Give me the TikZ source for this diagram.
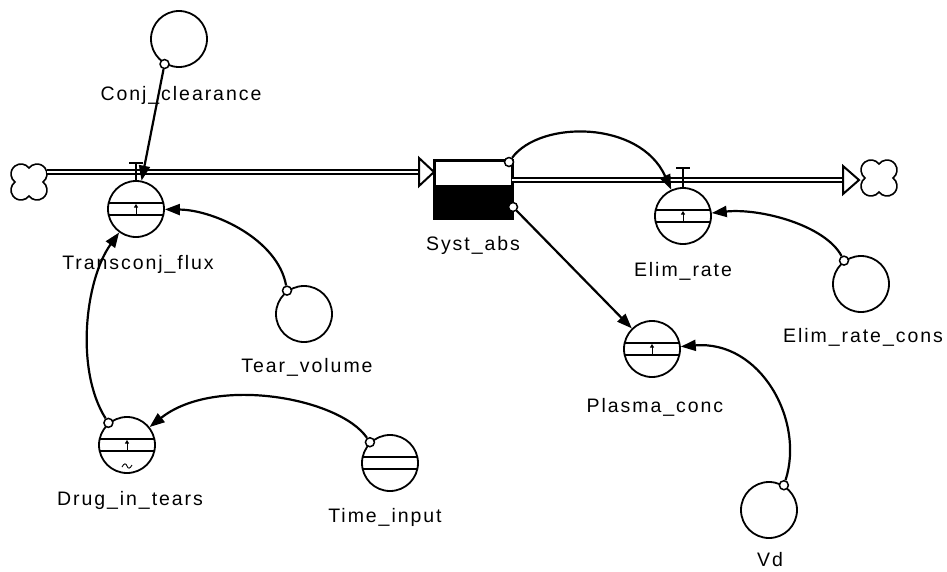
\documentclass[tikz,border=0pt]{standalone}
\usepackage{fontspec}
\newfontfamily\diagfont{Liberation Sans}[LetterSpace=10]
\usetikzlibrary{arrows.meta}

\tikzset{
  aux/.style={circle, draw, line width=1.8pt, minimum size=56pt, inner sep=0pt},
  srcdot/.style={circle, draw, line width=1.5pt, fill=white, minimum size=9pt, inner sep=0pt},
  lbl/.style={font=\diagfont\fontsize{19.5pt}{22pt}\selectfont, inner sep=0pt, anchor=base},
  conn/.style={line width=2.2pt, -{Triangle[length=15pt,width=11pt]}},
  pipe/.style={draw, line width=1.5pt, double=white, double distance=2.8pt},
  pipehead/.style={draw, fill=white, line width=2pt, line join=miter},
  band/.pic={\draw[line width=1.4pt] (-27.3,-6) -- (27.3,-6) (-27.3,6) -- (27.3,6);},
  tick/.pic={\draw[line width=0.9pt, -{Triangle[length=3.5pt,width=4pt]}] (0,5) -- (0,-5);},
  cloudsym/.pic={\draw[line width=1.6pt, fill=white]
      (0,14) arc[start angle=143.13, end angle=-53.13, radius=10]
      arc[start angle=53.13, end angle=-143.13, radius=10]
      arc[start angle=-36.87, end angle=-233.13, radius=10]
      arc[start angle=-126.87, end angle=-323.13, radius=10] -- cycle;}
}

\begin{document}
\begin{tikzpicture}[x=1pt, y=-1pt]
\useasboundingbox (0,0) rectangle (947,571);

% ---- stock ----
\node[draw, line width=1.8pt, minimum width=77pt, minimum height=57pt, inner sep=0pt] (sa) at (473.5,189.5) {};
\fill (sa.south west) rectangle ([yshift=4.5pt]sa.east);
\draw[line width=1.8pt] (sa.north west) rectangle (sa.south east);

% ---- clouds and pipes ----
\pic at (29,182) {cloudsym};
\coordinate (cl) at (47,172);
\coordinate (ahl) at (419,172);
\pic at (879,178) {cloudsym};
\coordinate (sr) at (512,180);
\coordinate (ahr) at (843,180);
\draw[pipe] (cl) -- (ahl);
\draw[pipe] (sr) -- (ahr);
\draw[pipehead] (ahl) ++(0,-14) -- ++(15,14) -- ++(-15,14) -- cycle;
\draw[pipehead] (ahr) ++(0,-14) -- ++(16,14) -- ++(-16,14) -- cycle;

% ---- flow valves ----
\node[aux] (tf) at (136,209) {};
\pic at (136,209) {band};
\pic at (136,209) {tick};
\draw[line width=1.6pt] (tf.north) -- ++(0,-17) ++(-7,0) -- ++(14,0);

\node[aux] (er) at (683,216) {};
\pic at (683,216) {band};
\pic at (683,216) {tick};
\draw[line width=1.6pt] (er.north) -- ++(0,-19) ++(-7,0) -- ++(14,0);

% ---- converters ----
\node[aux] (cc) at (179,39) {};
\node[aux] (tv) at (304,314) {};
\node[aux] (dt) at (127,445) {};
\pic at (127,445) {band};
\pic at (127,445) {tick};
\draw[line width=0.9pt] (122,467) .. controls (124,463) and (126,463) .. (127,466)
      .. controls (128,469) and (130,469) .. (132,465);
\node[aux] (ti) at (390,463) {};
\pic at (390,463) {band};
\node[aux] (pl) at (652,349) {};
\pic at (652,349) {band};
\pic at (652,349) {tick};
\node[aux] (ec) at (861,284) {};
\node[aux] (vd) at (769,510) {};

% ---- connector sources ----
\node[srcdot] (ccs) at (cc.240) {};
\node[srcdot] (tvs) at (tv.126) {};
\node[srcdot] (dts) at (dt.130) {};
\node[srcdot] (tis) at (ti.134) {};
\node[srcdot] (ecs) at (ec.126) {};
\node[srcdot] (vds) at (vd.59) {};
\node[srcdot] (sa1) at (509,162) {};
\node[srcdot] (sa2) at (513,207) {};

% ---- connectors ----
\draw[conn] (ccs) -- (tf);
\draw[conn] (tvs) .. controls (278,240) and (215,210) .. (tf);
\draw[conn] (dts) .. controls (75,370) and (85,280) .. (tf);
\draw[conn] (tis) .. controls (340,398) and (215,375) .. (dt);
\draw[conn] (sa1) .. controls (540,120) and (640,120) .. (er);
\draw[conn] (sa2) -- (pl);
\draw[conn] (ecs) .. controls (825,225) and (760,208) .. (er);
\draw[conn] (vds) .. controls (805,420) and (760,340) .. (pl);

% ---- labels ----
\node[lbl] (lcc) at (181,100) {Conj\_clearance};
\node[lbl] (ltf) at (138,269) {Transconj\_flux};
\node[lbl] (ltv) at (307,372) {Tear\_volume};
\node[lbl] (ldt) at (130,505) {Drug\_in\_tears};
\node[lbl] (lti) at (385,522) {Time\_input};
\node[lbl] (lsa) at (473,250) {Syst\_abs};
\node[lbl] (ler) at (683,276) {Elim\_rate};
\node[lbl] (lec) at (863,342) {Elim\_rate\_cons};
\node[lbl] (lpl) at (655,412) {Plasma\_conc};
\node[lbl] (lvd) at (770,566) {Vd};
\end{tikzpicture}
\end{document}
